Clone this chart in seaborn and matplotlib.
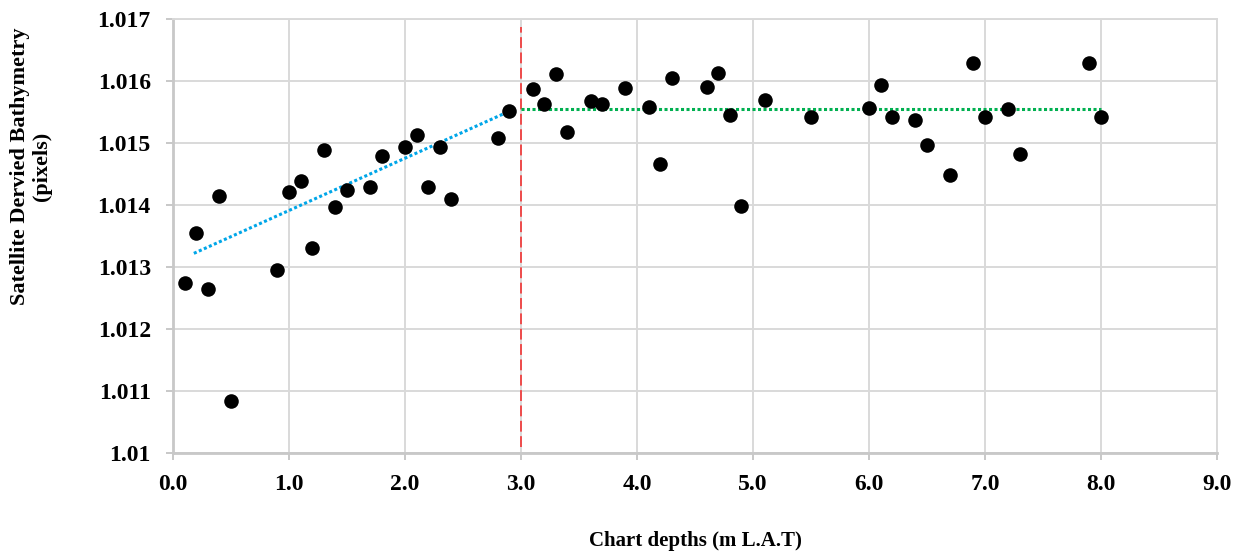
import numpy as np
import pandas as pd
import matplotlib
matplotlib.use("Agg")
import matplotlib.pyplot as plt
import seaborn as sns

depth = [0.1, 0.2, 0.3, 0.4, 0.5, 0.9, 1.0, 1.1, 1.2, 1.3, 1.4, 1.5, 1.7, 1.8,
         2.0, 2.1, 2.2, 2.3, 2.4, 2.8, 2.9, 3.1, 3.2, 3.3, 3.4, 3.6, 3.7, 3.9,
         4.1, 4.2, 4.3, 4.6, 4.7, 4.8, 4.9, 5.1, 5.5, 6.0, 6.1, 6.2, 6.4, 6.5,
         6.7, 6.9, 7.0, 7.2, 7.3, 7.9, 8.0]
sdb = [1.01274, 1.01355, 1.01265, 1.01415, 1.01084, 1.01295, 1.01421, 1.01439,
       1.01331, 1.01489, 1.01397, 1.01424, 1.01429, 1.01479, 1.01494, 1.01513,
       1.01429, 1.01494, 1.01410, 1.01508, 1.01552, 1.01587, 1.01563, 1.01611,
       1.01518, 1.01568, 1.01563, 1.01589, 1.01558, 1.01466, 1.01605, 1.01590,
       1.01613, 1.01545, 1.01398, 1.01569, 1.01542, 1.01556, 1.01594, 1.01542,
       1.01537, 1.01497, 1.01448, 1.01629, 1.01542, 1.01555, 1.01482, 1.01629,
       1.01542]

# trend lines
shallow_trend_x = [0.18, 2.92]
shallow_trend_y = [1.01322, 1.01553]
deep_trend_x = [3.0, 8.0]
deep_trend_y = [1.01555, 1.01555]
break_depth = 3.0

x_ticks = [0, 1, 2, 3, 4, 5, 6, 7, 8, 9]
y_ticks = [1.010, 1.011, 1.012, 1.013, 1.014, 1.015, 1.016, 1.017]
y_tick_labels = ["1.01", "1.011", "1.012", "1.013", "1.014", "1.015", "1.016", "1.017"]

df = pd.DataFrame({"depth": depth, "sdb": sdb})

sns.set_theme(style="whitegrid")
plt.rcParams["font.family"] = ["Liberation Serif", "DejaVu Serif"]

fig = plt.figure(figsize=(12.4, 5.54), dpi=100)
ax = fig.add_axes([0.1395, 0.1823, 0.8420, 0.7834])

sns.scatterplot(data=df, x="depth", y="sdb", ax=ax, color="black", s=110,
                edgecolor="black", linewidth=0, zorder=4)

sns.lineplot(x=shallow_trend_x, y=shallow_trend_y, ax=ax, color="#00a6e8",
             linestyle=(0, (1, 0.8)), linewidth=2.2, zorder=3)
sns.lineplot(x=deep_trend_x, y=deep_trend_y, ax=ax, color="#00b050",
             linestyle=(0, (1, 0.8)), linewidth=2.2, zorder=3)

ax.axvline(break_depth, ymin=0.014, ymax=0.982, color="#f04040",
           linestyle=(0, (6, 2.5)), linewidth=1.3, zorder=2)

ax.set_xlim(0, 9)
ax.set_ylim(1.010, 1.017)
ax.set_xticks(x_ticks)
ax.set_xticklabels([f"{t:.1f}" for t in x_ticks])
ax.set_yticks(y_ticks)
ax.set_yticklabels(y_tick_labels)

ax.grid(True, color="#d9d9d9", linewidth=1.4)
for s in ax.spines.values():
    s.set_visible(True)
    s.set_color("#d9d9d9")
    s.set_linewidth(1.4)
ax.spines["left"].set_color("#c8c8c8")
ax.spines["bottom"].set_color("#c8c8c8")
ax.spines["left"].set_linewidth(2)
ax.spines["bottom"].set_linewidth(2)

ax.tick_params(axis="both", which="both", length=5, width=1.4, color="#c8c8c8",
               direction="out", bottom=True, left=True)
ax.tick_params(axis="x", pad=10)
ax.tick_params(axis="y", pad=11)
for lab in ax.get_xticklabels() + ax.get_yticklabels():
    lab.set_fontweight("bold")
    lab.set_fontsize(17)
    lab.set_color("black")

ax.set_xlabel("Chart depths (m L.A.T)", fontsize=15, fontweight="bold", labelpad=26, color="black")
ax.set_ylabel("Satellite Dervied Bathymetry\n(pixels)", fontsize=16, fontweight="bold",
              color="black", linespacing=1.13)
ax.yaxis.set_label_coords(-0.116, 0.661)

fig.savefig("out.png", dpi=100, facecolor="white")
